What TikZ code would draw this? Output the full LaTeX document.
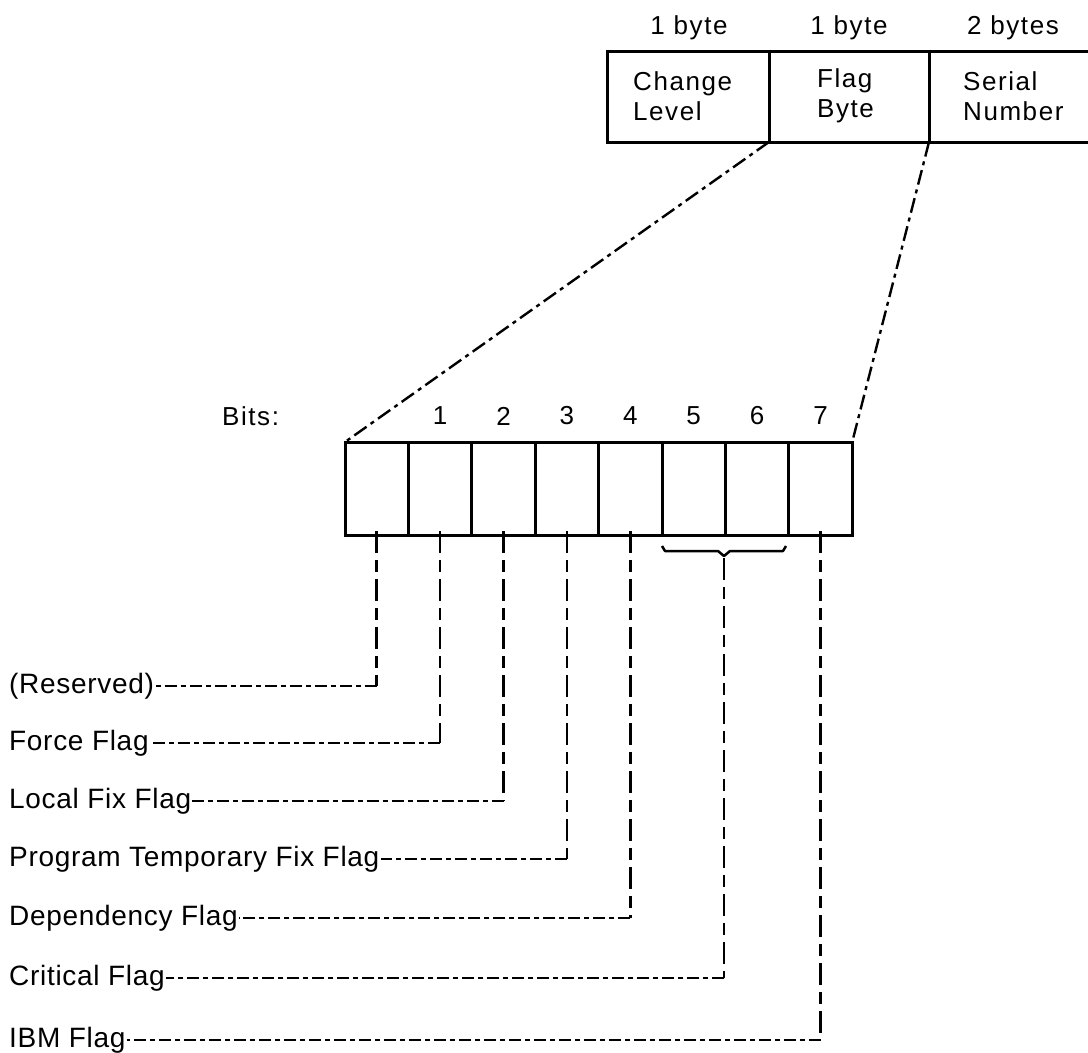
\documentclass[tikz,border=0pt]{standalone}
\usepackage{fontspec}
\setmainfont{Liberation Sans}
\newfontfamily\lblfont{Liberation Sans}[LetterSpace=2.5]
\newfontfamily\hdrfont{Liberation Sans}[LetterSpace=6]
\begin{document}
\begin{tikzpicture}[x=1pt,y=-1pt,
  cell/.style={draw, line width=3pt, minimum width=63.4pt, minimum height=93pt, inner sep=0pt, outer sep=0pt},
  fcell/.style={draw, line width=3pt, minimum height=91pt, inner sep=0pt, outer sep=0pt},
  lbl/.style={font=\lblfont\fontsize{28}{32}\selectfont, inner sep=1pt},
  hdr/.style={font=\hdrfont\fontsize{26}{30}\selectfont, inner sep=0pt},
  hconn/.style={line width=2.6pt, dash pattern=on 12pt off 4pt on 5pt off 4pt},
  vconn/.style={line width=2.6pt, dash pattern=on 22pt off 7pt on 12pt off 7pt},
  zoomline/.style={line width=2.4pt, dash pattern=on 15pt off 5pt on 4pt off 5pt}]
\useasboundingbox (0,0) rectangle (1088,1053);
% top record
\node[fcell, minimum width=162pt] (c1) at (688,96.5) {};
\node[fcell, minimum width=160pt] (c2) at (849,96.5) {};
\draw[line width=3pt] (c2.north east) -- (1090,51);
\draw[line width=3pt] (c2.south east) -- (1090,142);
\node[hdr] (h1) at (689,28) {1 byte};
\node[hdr] (h2) at (849,28) {1 byte};
\node[hdr] (h3) at (1013,28) {2 bytes};
\node[hdr, anchor=west, align=left] (t1) at (633,96) {Change\\Level};
\node[hdr, anchor=west, align=left] (t2) at (817,96) {Flag\\Byte};
\node[hdr, anchor=west, align=left] (t3) at (963,96) {Serial\\Number};
% bits
\foreach \i in {0,...,7} {
  \node[cell] (b\i) at ({345+63.4*(\i+0.5)},488.5) {};
}
\foreach \i in {1,...,7} {
  \node[hdr] (n\i) at ({345+63.4*(\i+0.5)},416) {\i};
}
\node[hdr, anchor=west] (bits) at (222,416) {Bits:};
% zoom lines
\draw[zoomline] (c2.south west) -- (b0.north west);
\draw[zoomline] (c2.south east) -- (b7.north east);
% brace
\draw[line width=2.5pt, line join=round] (662,546) -- (665,551) -- (718,551) -- (724,556) -- (730,551) -- (783,551) -- (786,546);
\coordinate (tip) at (724,558);
% labels
\node[lbl, anchor=west] (l0) at (8,686) {(Reserved)};
\node[lbl, anchor=west] (l1) at (8,743) {Force Flag};
\node[lbl, anchor=west] (l2) at (8,801) {Local Fix Flag};
\node[lbl, anchor=west] (l3) at (8,859) {Program Temporary Fix Flag};
\node[lbl, anchor=west] (l4) at (8,918) {Dependency Flag};
\node[lbl, anchor=west] (l5) at (8,978) {Critical Flag};
\node[lbl, anchor=west] (l6) at (8,1040) {IBM Flag};
% connectors
\foreach \b/\l in {b0/l0, b1/l1, b2/l2, b3/l3, b4/l4, b7/l6} {
  \draw[vconn] ([yshift=4pt]\b.south) -- (\b.south |- \l.east);
  \draw[hconn] (\b.south |- \l.east) -- (\l.east);
}
\draw[vconn] (tip) -- (tip |- l5.east);
\draw[hconn] (tip |- l5.east) -- (l5.east);
\end{tikzpicture}
\end{document}
